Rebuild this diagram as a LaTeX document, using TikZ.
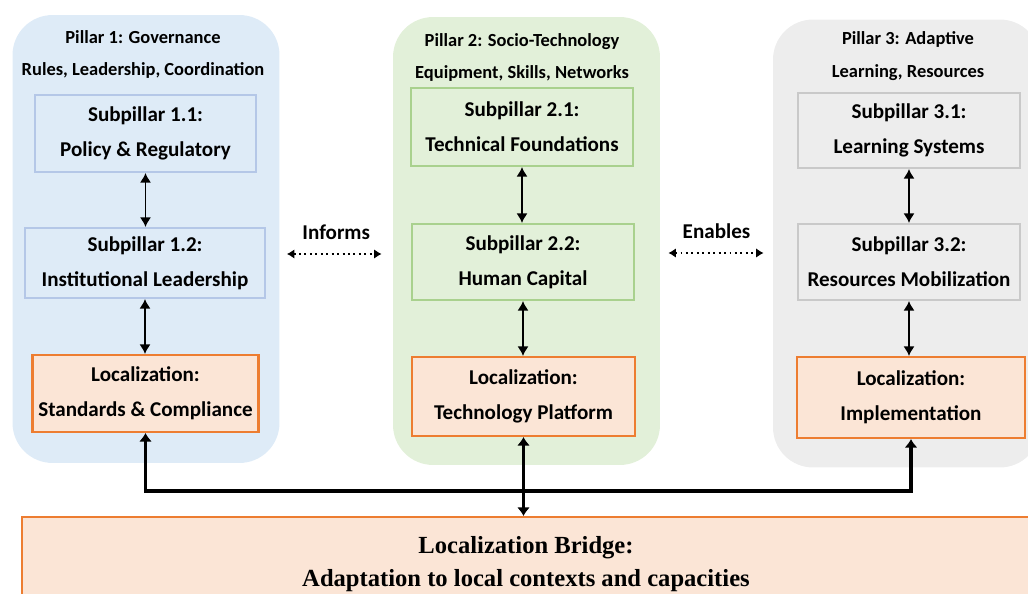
\documentclass[tikz,border=0pt]{standalone}
\usepackage{fontspec}
\setmainfont{Carlito}
\newfontfamily\bridgefont{Liberation Serif}
\usetikzlibrary{arrows.meta,positioning}

\definecolor{govfill}{HTML}{DEEBF7}
\definecolor{govdraw}{HTML}{B4C7E7}
\definecolor{socfill}{HTML}{E2F0D9}
\definecolor{socdraw}{HTML}{A9D18E}
\definecolor{adpfill}{HTML}{EDEDED}
\definecolor{adpdraw}{HTML}{C9C9C9}
\definecolor{locfill}{HTML}{FBE5D6}
\definecolor{locdraw}{HTML}{ED7D31}

\begin{document}
\begin{tikzpicture}
    [
      x=0.02cm, y=-0.02cm,
      pillar/.style={rounded corners=0.8cm,minimum width=5.34cm,minimum height=8.96cm},
      headtext/.style={align=center,font=\bfseries\fontsize{10.5}{18.7}\selectfont},
      subbox/.style={draw,line width=1.2pt,align=center,minimum width=4.42cm,minimum height=1.54cm,
        font=\bfseries\fontsize{12}{19.8}\selectfont},
      localbox/.style={subbox,draw=locdraw,fill=locfill},
      linktext/.style={font=\bfseries\fontsize{12}{14}\selectfont},
      link/.style={<->,>={Latex[length=0.19cm,width=0.22cm]},line width=0.75pt},
      dotlink/.style={<->,>={Latex[length=0.15cm,width=0.19cm]},line width=1.1pt,dotted},
      bigarrow/.style={<->,>={Latex[length=0.17cm,width=0.26cm]},line width=1.8pt},
    ]

    \useasboundingbox (0,0) rectangle (1028,594);
    \clip (0,0) rectangle (1028,594);

    \node (pillar-gov) [pillar,fill=govfill] at (146,239) {};
    \node (pillar-soc) [pillar,fill=socfill] at (526.5,241) {};
    \node (pillar-adp) [pillar,fill=adpfill] at (906.5,243.5) {};

    \node (head-gov) [headtext] at (143,54.5) {Pillar 1: Governance\\Rules, Leadership, Coordination};
    \node (head-soc) [headtext] at (522,57.5) {Pillar 2: Socio-Technology\\Equipment, Skills, Networks};
    \node (head-adp) [headtext] at (908,56) {Pillar 3: Adaptive\\Learning, Resources};

    \node (sub-1-1) [subbox,draw=govdraw] at (145.5,133.5) {Subpillar 1.1:\\Policy \& Regulatory};
    \node (sub-1-2) [subbox,draw=govdraw,minimum width=4.8cm,minimum height=1.4cm] at (145,263) {Subpillar 1.2:\\Institutional Leadership};
    \node (loc-1) [localbox] at (145.5,393.5) {Localization:\\Standards \& Compliance};

    \node (sub-2-1) [subbox,draw=socdraw,minimum width=4.44cm,minimum height=1.56cm] at (522,127) {Subpillar 2.1:\\Technical Foundations};
    \node (sub-2-2) [subbox,draw=socdraw,minimum width=4.44cm,minimum height=1.52cm] at (523,262) {Subpillar 2.2:\\Human Capital};
    \node (loc-2) [localbox,minimum width=4.46cm,minimum height=1.58cm] at (523.5,396.5) {Localization:\\Technology Platform};

    \node (sub-3-1) [subbox,draw=adpdraw,minimum width=4.44cm,minimum height=1.5cm] at (909,130.5) {Subpillar 3.1:\\Learning Systems};
    \node (sub-3-2) [subbox,draw=adpdraw,minimum width=4.44cm,minimum height=1.52cm] at (909,262) {Subpillar 3.2:\\Resources Mobilization};
    \node (loc-3) [localbox,minimum width=4.56cm,minimum height=1.62cm] at (911,397.5) {Localization:\\Implementation};

    \node (bridge) [localbox,minimum width=20.16cm,minimum height=1.88cm,
      font=\bridgefont\bfseries\fontsize{14}{18.7}\selectfont] at (526,564)
      {Localization Bridge:\\Adaptation to local contexts and capacities};

    \path
    (sub-1-1.south) edge [link] (sub-1-1.south |- sub-1-2.north)
    (sub-1-2.south) edge [link] (sub-1-2.south |- loc-1.north)

    (sub-2-1.south) edge [link] (sub-2-1.south |- sub-2-2.north)
    (sub-2-2.south) edge [link] (sub-2-2.south |- loc-2.north)

    (sub-3-1.south) edge [link] (sub-3-1.south |- sub-3-2.north)
    (sub-3-2.south) edge [link] (sub-3-2.south |- loc-3.north)
    ;

    \draw [dotlink,shorten <=0.14cm,shorten >=0.22cm] ([yshift=-0.3cm]pillar-gov.east)
      -- node (informs) [linktext,above=0.16cm] {Informs} ([yshift=-0.3cm]pillar-gov.east -| pillar-soc.west);
    \draw [dotlink,shorten <=0.16cm,shorten >=0.18cm] ([yshift=-0.24cm]pillar-soc.east)
      -- node (enables) [linktext,above=0.16cm] {Enables} ([yshift=-0.24cm]pillar-soc.east -| pillar-adp.west);

    \coordinate (bus) at (523,491);
    \draw [bigarrow] (loc-1.south) |- (bus) -| (loc-3.south);
    \draw [bigarrow] (loc-2.south) -- (loc-2.south |- bridge.north);

  \end{tikzpicture}
\end{document}
